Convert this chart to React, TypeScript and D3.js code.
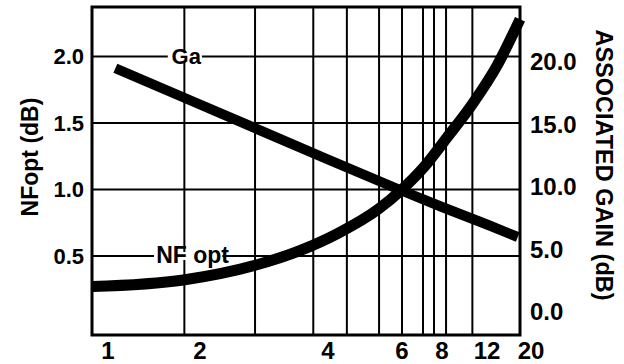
import React from "react";
import * as d3 from "d3";

// frequency (GHz) tick labels and the uneven vertical grid of the scanned sheet
const xTicks = [1, 2, 4, 6, 8, 12, 20];
const xGrid = [1.83, 2.86, 3.77, 4.51, 5.38, 6, 7.05, 7.6, 8.36, 10.7];
const nfTicks = [0.5, 1.0, 1.5, 2.0];
const gainTicks = [0, 5, 10, 15, 20];

// associated gain (dB)
const gaFreq = [1.08, 2, 4, 6, 8, 12, 17.6];
const gaGain = [19.5, 16.6, 12.2, 9.7, 8.4, 7.0, 6.0];

// NF opt (dB)
const nfFreq = [0.83, 1.82, 2.86, 3.56, 4.27, 5.35, 6, 7.05, 8.44, 10.76, 13.8, 18.0];
const nfValue = [0.27, 0.32, 0.43, 0.54, 0.67, 0.85, 1.0, 1.16, 1.39, 1.65, 1.93, 2.28];

const W = 624;
const H = 364;
const frame = { left: 92, right: 520, top: 7, bottom: 335 };
const font = "'Liberation Sans', Arial, Helvetica, sans-serif";

// the printed frequency axis is not a clean log scale, so go piecewise through the labels
const x = d3.scaleLinear().domain(xTicks).range([108, 200, 328, 402, 442, 487, 531]);
const yNF = d3.scaleLinear().domain([0, 2]).range([322.5, 56.5]);
const yGain = d3.scaleLinear().domain([0, 20]).range([312, 62]);

export default function App() {
  const gaLine = d3
    .line<number>()
    .x((f) => x(f))
    .y((_, i) => yGain(gaGain[i]))(gaFreq);

  const nfLine = d3
    .line<number>()
    .x((f) => x(f))
    .y((_, i) => yNF(nfValue[i]))
    .curve(d3.curveMonotoneX)(nfFreq);

  return (
    <svg
      width={W}
      height={H}
      style={{ position: "absolute", left: 0, top: 0, display: "block", background: "#fff" }}
      fontFamily={font}
      fontWeight="bold"
    >
      <rect width={W} height={H} fill="#fff" />

      {/* grid */}
      {nfTicks.map((t) => (
        <line key={"h" + t} x1={frame.left} x2={frame.right} y1={yNF(t)} y2={yNF(t)} stroke="#000" strokeWidth={2} />
      ))}
      {xGrid.map((f) => (
        <line key={"v" + f} x1={x(f)} x2={x(f)} y1={frame.top} y2={frame.bottom} stroke="#000" strokeWidth={2} />
      ))}
      <rect
        x={frame.left}
        y={frame.top}
        width={frame.right - frame.left}
        height={frame.bottom - frame.top}
        fill="none"
        stroke="#000"
        strokeWidth={3}
      />

      {/* gaps in the grid behind the curve labels */}
      <rect x={x(1.65)} y={yNF(2.0) - 4} width={x(2.03) - x(1.65)} height={8} fill="#fff" />
      <rect x={x(1.5)} y={yNF(0.5) - 4} width={x(2.35) - x(1.5)} height={8} fill="#fff" />

      {/* curves */}
      <path d={gaLine ?? ""} fill="none" stroke="#000" strokeWidth={10} />
      <path d={nfLine ?? ""} fill="none" stroke="#000" strokeWidth={11} />

      <text x={x(1.85)} y={yNF(2.0)} dy="0.35em" textAnchor="middle" fontSize={22}>
        Ga
      </text>
      <text x={x(1.92)} y={yNF(0.5)} dy="0.3em" textAnchor="middle" fontSize={23}>
        NF opt
      </text>

      {/* left axis */}
      {nfTicks.map((t) => (
        <text key={"l" + t} x={84} y={yNF(t)} dy="0.35em" textAnchor="end" fontSize={22}>
          {t.toFixed(1)}
        </text>
      ))}
      <text transform={`translate(30,157) rotate(-90)`} dy="0.35em" textAnchor="middle" fontSize={23}>
        NFopt (dB)
      </text>

      {/* right axis */}
      {gainTicks.map((t) => (
        <text key={"r" + t} x={530} y={yGain(t)} dy="0.35em" textAnchor="start" fontSize={24}>
          {t.toFixed(1)}
        </text>
      ))}
      <text transform={`translate(604,165) rotate(90)`} dy="0.35em" textAnchor="middle" fontSize={23.5}>
        ASSOCIATED GAIN (dB)
      </text>

      {/* bottom axis */}
      {xTicks.map((t) => (
        <text key={"b" + t} x={x(t)} y={359} textAnchor="middle" fontSize={24}>
          {t}
        </text>
      ))}
    </svg>
  );
}
